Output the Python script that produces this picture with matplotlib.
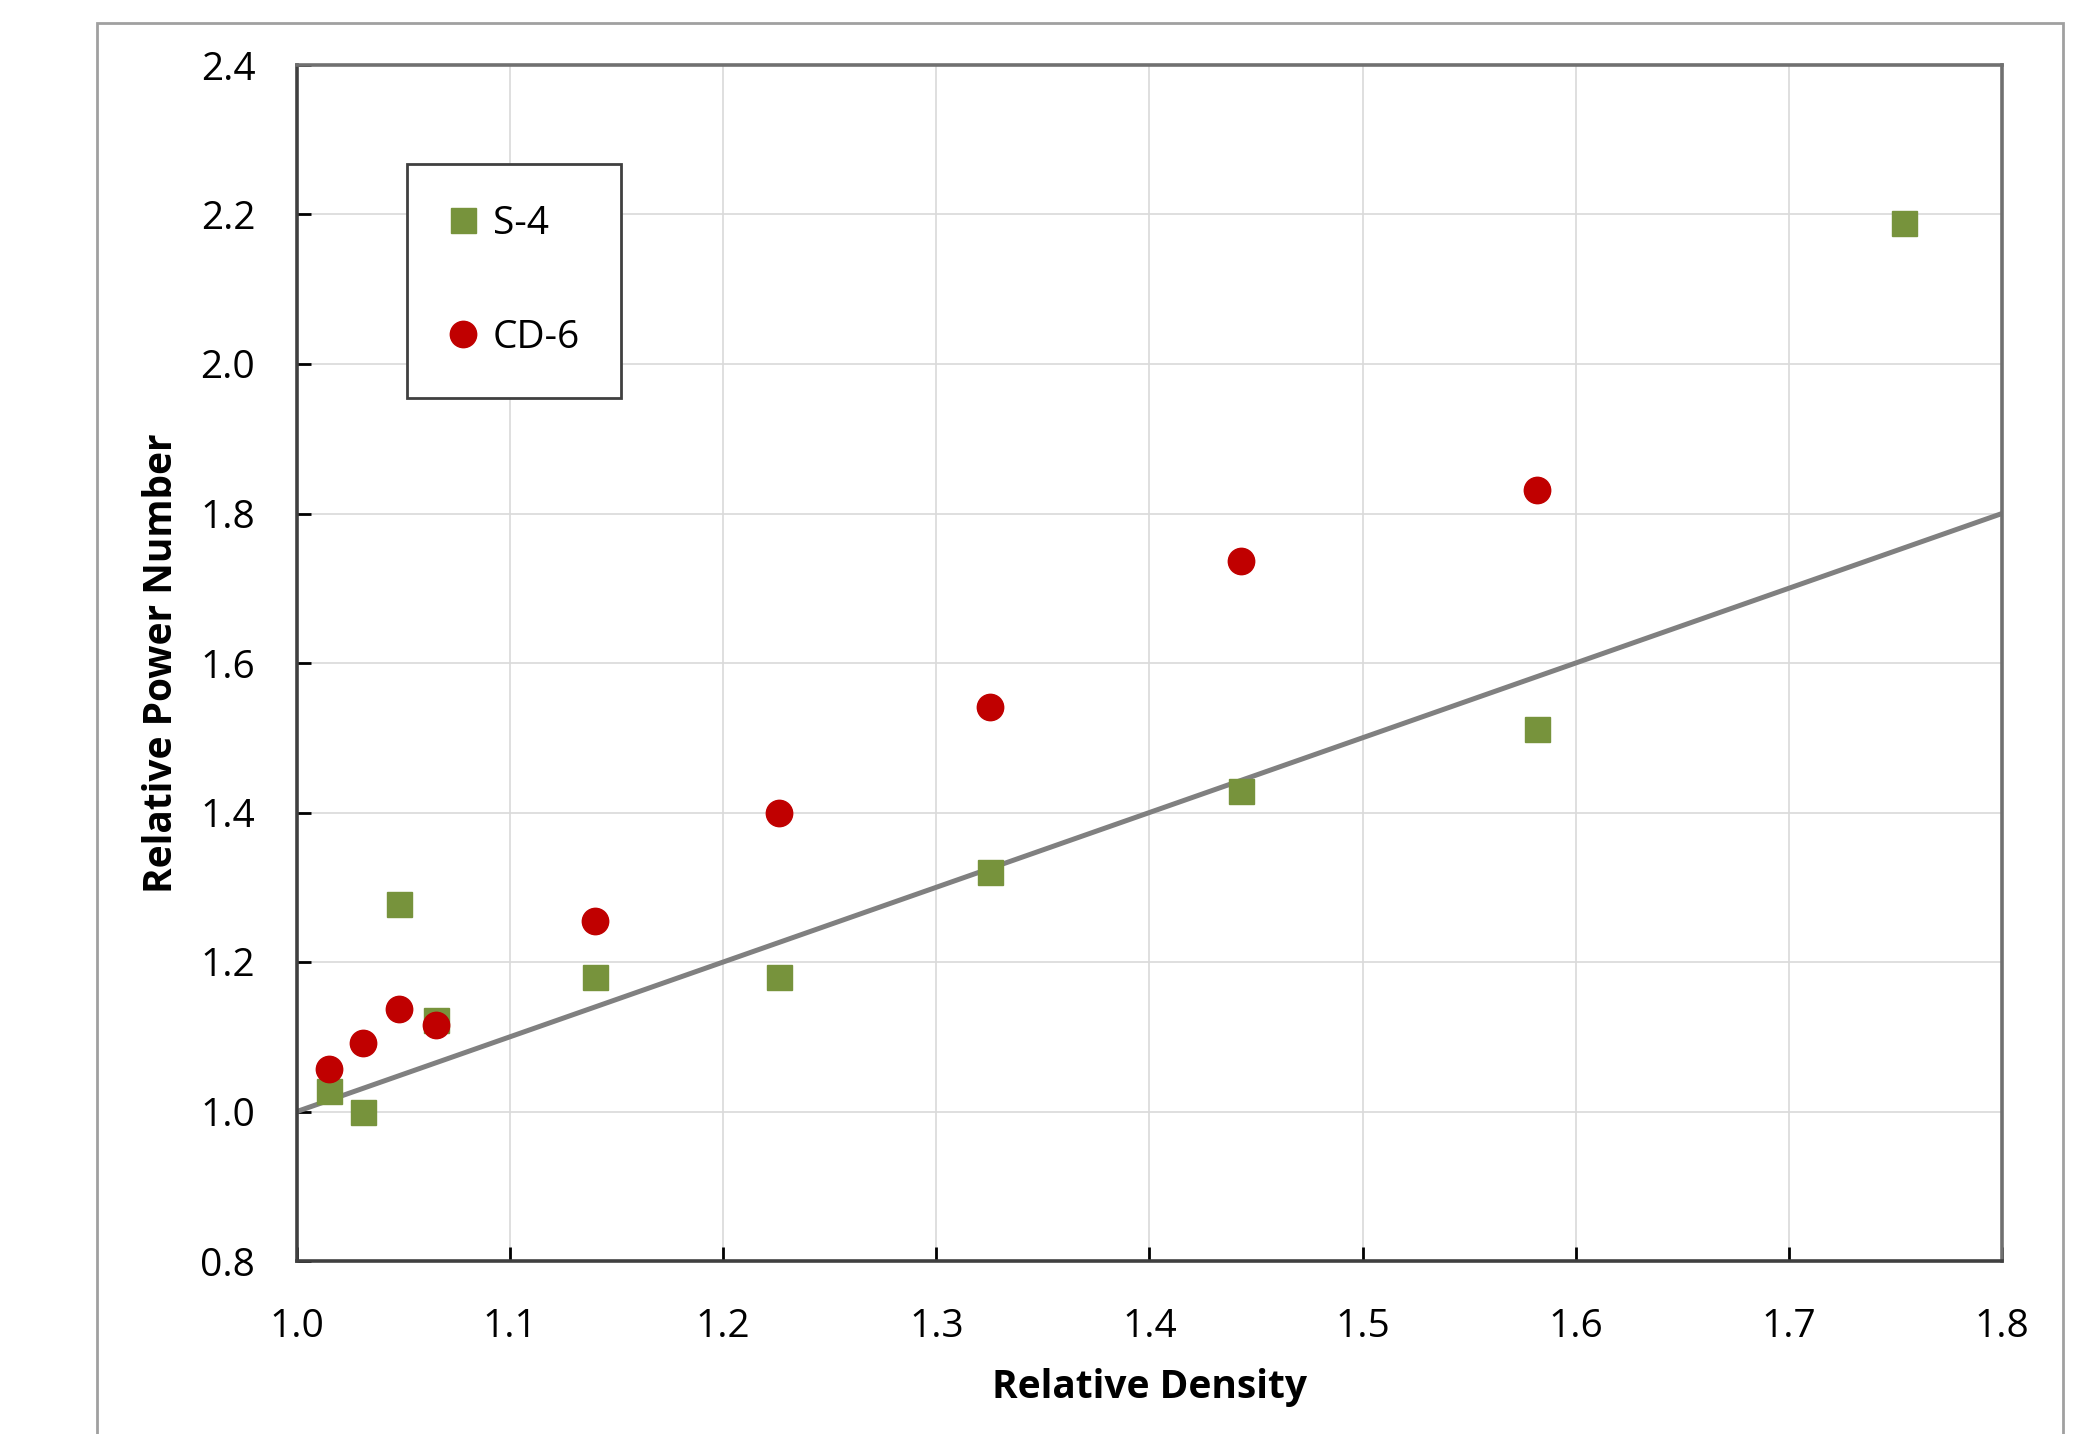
import matplotlib.pyplot as plt
from matplotlib.patches import Rectangle

# données
density = [1.015, 1.031, 1.048, 1.065, 1.140, 1.226, 1.325, 1.443, 1.582, 1.754]
s4_power = [1.027, 1.000, 1.277, 1.123, 1.180, 1.180, 1.320, 1.429, 1.512, 2.189]
cd6_density = [1.015, 1.031, 1.048, 1.065, 1.140, 1.226, 1.325, 1.443, 1.582]
cd6_power = [1.057, 1.091, 1.137, 1.116, 1.255, 1.400, 1.541, 1.736, 1.832]
line_x = [1.0, 1.8]
line_y = [1.0, 1.8]

plt.rcParams['font.family'] = ['Open Sans', 'DejaVu Sans']

fig = plt.figure(figsize=(20.94, 14.34), dpi=100)
ax = fig.add_axes([297 / 2094, 1 - 1261 / 1434, 1705 / 2094, 1196 / 1434])

# cadre extérieur
fig.patches.append(Rectangle((97 / 2094, -0.05), (2063 - 97) / 2094, 1 - 23 / 1434 + 0.05,
                             transform=fig.transFigure, fill=False, edgecolor='#a0a0a0',
                             linewidth=2))

ax.plot(line_x, line_y, color='#808080', linewidth=3.6, zorder=2)
ax.plot(density, s4_power, 's', color='#77933c', markersize=18, label='S-4', zorder=3)
ax.plot(cd6_density, cd6_power, 'o', color='#c00000', markersize=19, label='CD-6', zorder=4)

ax.set_xlim(1.0, 1.8)
ax.set_ylim(0.8, 2.4)
ax.set_xticks([1.0, 1.1, 1.2, 1.3, 1.4, 1.5, 1.6, 1.7, 1.8])
ax.set_yticks([0.8, 1.0, 1.2, 1.4, 1.6, 1.8, 2.0, 2.2, 2.4])
ax.xaxis.set_major_formatter(lambda v, p: f"{v:.1f}")
ax.yaxis.set_major_formatter(lambda v, p: f"{v:.1f}")
ax.tick_params(direction='in', length=10, width=2, labelsize=28)
ax.tick_params(axis='x', pad=34)
ax.tick_params(axis='y', pad=30)
ax.grid(True, color='#d9d9d9', linewidth=1.2, zorder=0)
ax.set_axisbelow(True)

for side in ['left', 'bottom']:
    ax.spines[side].set_linewidth(2.6)
    ax.spines[side].set_color('#404040')
for side in ['top', 'right']:
    ax.spines[side].set_linewidth(2.6)
    ax.spines[side].set_color('#707070')

ax.set_xlabel('Relative Density', fontsize=28, fontweight='bold', labelpad=16)
ax.set_ylabel('Relative Power Number', fontsize=28, fontweight='bold', labelpad=14)

leg = ax.legend(loc='upper left', bbox_to_anchor=(0.0645, 0.917), borderaxespad=0,
                fontsize=28, labelspacing=1.95, handlelength=0.8, handletextpad=0.35,
                borderpad=1.05, fancybox=False, framealpha=1, numpoints=1)
leg.get_frame().set_edgecolor('#404040')
leg.get_frame().set_linewidth(2)

fig.savefig('out.png', dpi=100)
